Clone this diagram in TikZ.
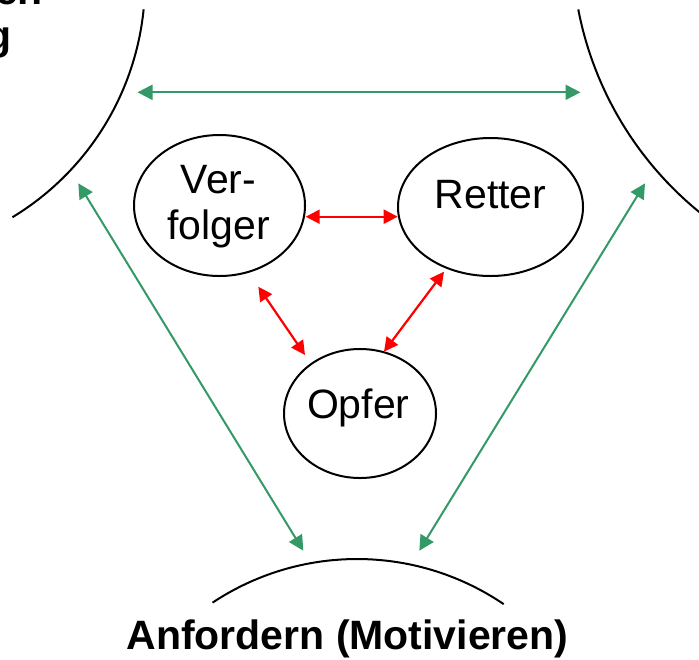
\documentclass[tikz,border=0pt]{standalone}
\usepackage{fontspec}
\setmainfont{Liberation Sans}
\usetikzlibrary{arrows.meta,shapes.geometric}
\definecolor{linkgreen}{RGB}{51,153,102}
\definecolor{clashred}{RGB}{255,0,0}
\begin{document}
\begin{tikzpicture}[x=0.5pt,y=-0.5pt,
  role/.style={ellipse, draw=black, line width=1pt, inner sep=0pt},
  lbl/.style={font=\fontsize{20.5}{23}\selectfont, inner sep=0pt},
  head/.style={font=\bfseries\fontsize{20.5}{22.5}\selectfont, inner sep=0pt, align=center},
  tip/.style={Triangle[length=7pt,width=7pt]},
  tie/.style={draw=linkgreen, line width=1pt, {Triangle[length=7.5pt,width=7.5pt]}-{Triangle[length=7.5pt,width=7.5pt]}},
  clash/.style={draw=clashred, line width=1.1pt, {Triangle[length=7pt,width=7pt]}-{Triangle[length=7pt,width=7pt]}},
  rim/.style={draw=black, line width=1pt}]

% page frame
\fill[white] (0,0) rectangle (699,659);
\useasboundingbox (0,0) rectangle (699,659);
\clip (0,0) rectangle (699,659);

% outer arcs of the three positions
\draw[rim] plot[domain=5.7:58.8, samples=80, variable=\t]
  ({-130+275*cos(\t)}, {-18+275*sin(\t)});
\draw[rim] plot[domain=125:169.1, samples=80, variable=\t]
  ({918+346*cos(\t)}, {-56+346*sin(\t)});
\draw[rim] plot[domain=-123.6:-55.8, samples=80, variable=\t]
  ({357+261*cos(\t)}, {820+261*sin(\t)});

% outer labels
\node[head] (topleft) at (-108.5,16.8) {Grenzen setzen\\Abgrenzung};
\node[head, anchor=base] (bottom) at (347.5,649) {Anfordern (Motivieren)};

% the drama triangle roles
\node[role, minimum width=85.5pt, minimum height=70.5pt] (verfolger) at (219.5,205.5) {};
\node[role, minimum width=92.5pt, minimum height=69pt] (retter) at (490.5,207) {};
\node[role, minimum width=76pt, minimum height=64.5pt] (opfer) at (360,413.5) {};

\node[lbl, align=center] (verfolgerText) at (218.5,206.6) {Ver-\\folger};
\node[lbl, anchor=base] (retterText) at (490.5,208) {Retter};
\node[lbl, anchor=base] (opferText) at (358.3,418) {Opfer};

% arrow end points
\coordinate (gTopL) at (137.5,92.3);
\coordinate (gTopR) at (580.5,92.3);
\coordinate (gLeftUp) at (78.3,183.3);
\coordinate (gLeftDown) at (303.3,550.7);
\coordinate (gRightUp) at (645,183.3);
\coordinate (gRightDown) at (419.3,550.7);

\coordinate (vR) at (305.7,216.7);
\coordinate (rV) at (397.7,216.7);
\coordinate (vO) at (258.3,286.7);
\coordinate (oV) at (305,355);
\coordinate (rO) at (444,271.7);
\coordinate (oR) at (384,351.7);

% links between the outer positions
\draw[tie] (gTopL) -- (gTopR);
\draw[tie] (gLeftUp) -- (gLeftDown);
\draw[tie] (gRightUp) -- (gRightDown);

% links between the roles
\draw[clash] (vR) -- (rV);
\draw[clash] (vO) -- (oV);
\draw[clash] (rO) -- (oR);
\end{tikzpicture}
\end{document}
